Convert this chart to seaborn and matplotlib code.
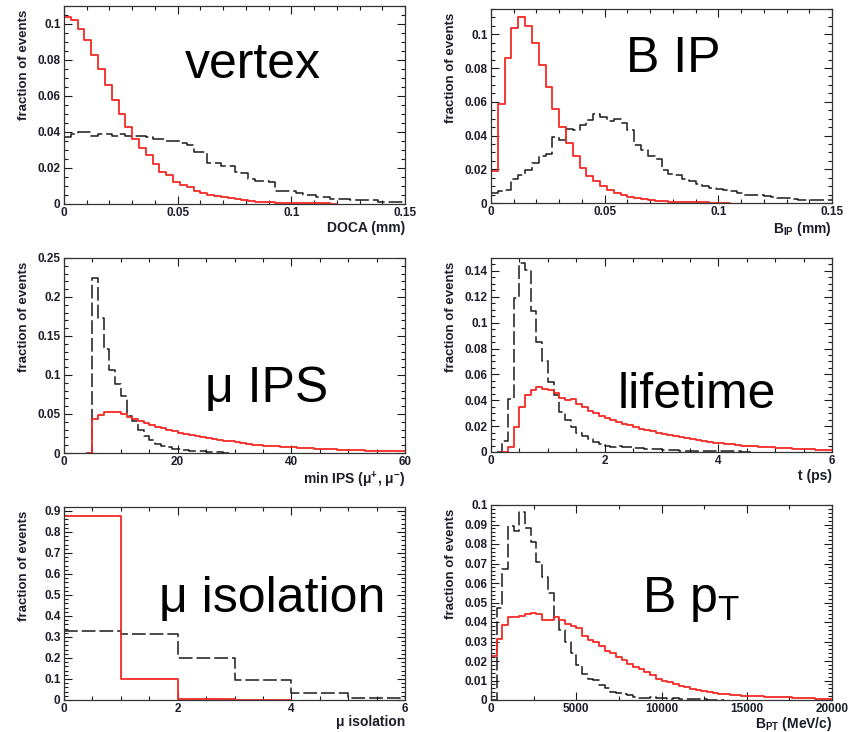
import numpy as np
import pandas as pd
import matplotlib
matplotlib.use("Agg")
import matplotlib.pyplot as plt
import seaborn as sns
from matplotlib.ticker import MultipleLocator, FuncFormatter

# ---------------- data (fraction of events per bin) ----------------
# vertex: DOCA (mm), 50 bins 0..0.15
vertex_range = (0.0, 0.15)
vertex_sig = [0.104, 0.102, 0.097, 0.091, 0.083, 0.075, 0.066, 0.058, 0.050, 0.043,
              0.036, 0.031, 0.027, 0.022, 0.018, 0.016, 0.0125, 0.0107, 0.0093, 0.0075,
              0.0060, 0.0050, 0.0043, 0.0037, 0.0032, 0.0026, 0.0021, 0.0017, 0.0013, 0.0011,
              0.0009, 0.0008, 0.0007, 0.0006, 0.0005, 0.0004, 0.0004, 0.0003, 0.0003, 0.0,
              0.0, 0.0, 0.0, 0.0, 0.0, 0.0, 0.0, 0.0, 0.0, 0.0]
vertex_bkg = [0.037, 0.039, 0.040, 0.040, 0.038, 0.039, 0.039, 0.038, 0.039, 0.038,
              0.038, 0.038, 0.037, 0.036, 0.036, 0.035, 0.035, 0.034, 0.033, 0.029,
              0.029, 0.023, 0.023, 0.021, 0.021, 0.018, 0.017, 0.014, 0.013, 0.013,
              0.012, 0.007, 0.007, 0.007, 0.006, 0.005, 0.005, 0.004, 0.004, 0.003,
              0.003, 0.003, 0.002, 0.002, 0.002, 0.002, 0.001, 0.001, 0.001, 0.001]

# B IP (mm), 50 bins 0..0.15
bip_range = (0.0, 0.15)
bip_sig = [0.019, 0.0585, 0.0857, 0.104, 0.110, 0.105, 0.095, 0.082, 0.069, 0.056,
           0.045, 0.0355, 0.028, 0.021, 0.016, 0.013, 0.010, 0.008, 0.006, 0.0045,
           0.0033, 0.0028, 0.0022, 0.0018, 0.0014, 0.0010, 0.0008, 0.0006, 0.0005, 0.0004,
           0.0003, 0.0003, 0.0002, 0.0002, 0.0, 0.0, 0.0, 0.0, 0.0, 0.0,
           0.0, 0.0, 0.0, 0.0, 0.0, 0.0, 0.0, 0.0, 0.0, 0.0]
bip_bkg = [0.006, 0.007, 0.008, 0.0144, 0.0164, 0.0197, 0.024, 0.028, 0.029, 0.0394,
           0.0374, 0.0437, 0.043, 0.0463, 0.0493, 0.053, 0.0512, 0.0487, 0.0497, 0.0477,
           0.043, 0.0345, 0.0315, 0.0276, 0.026, 0.0197, 0.0173, 0.0164, 0.014, 0.013,
           0.011, 0.010, 0.009, 0.0085, 0.0075, 0.007, 0.006, 0.005, 0.005, 0.0045,
           0.004, 0.0035, 0.003, 0.003, 0.0025, 0.002, 0.002, 0.002, 0.002, 0.002]

# min IPS, 60 bins 0..60
ips_range = (0.0, 60.0)
ips_sig = [0, 0, 0, 0, 0, 0.044, 0.049, 0.052, 0.053, 0.053,
           0.050, 0.046, 0.044, 0.041, 0.0385, 0.0355, 0.0333, 0.032, 0.030, 0.028,
           0.0256, 0.0244, 0.023, 0.0214, 0.020, 0.019, 0.018, 0.0167, 0.0158, 0.015,
           0.0141, 0.0128, 0.0115, 0.0107, 0.0102, 0.0096, 0.0091, 0.0086, 0.0081, 0.0076,
           0.0071, 0.0067, 0.0063, 0.0059, 0.0056, 0.0052, 0.0049, 0.0046, 0.0043, 0.0040,
           0.0038, 0.0036, 0.0034, 0.0032, 0.0031, 0.0030, 0.0029, 0.0028, 0.0027, 0.0026]
ips_bkg = [0, 0, 0, 0, 0, 0.224, 0.173, 0.133, 0.107, 0.089,
           0.073, 0.047, 0.0415, 0.030, 0.0214, 0.0162, 0.012, 0.0094, 0.0073, 0.0056,
           0.005, 0.0038, 0.003, 0.0026, 0.0021, 0.0017, 0.0017, 0.0013, 0, 0,
           0, 0, 0, 0, 0, 0, 0, 0, 0, 0,
           0, 0, 0, 0, 0, 0, 0, 0, 0, 0,
           0, 0, 0, 0, 0, 0, 0, 0, 0, 0]

# lifetime t (ps), 60 bins 0..6
life_range = (0.0, 6.0)
life_sig = [0, 0, 0, 0.004, 0.019, 0.035, 0.044, 0.048, 0.050, 0.049,
            0.048, 0.046, 0.042, 0.040, 0.041, 0.037, 0.035, 0.032, 0.030, 0.028,
            0.026, 0.025, 0.023, 0.022, 0.021, 0.019, 0.018, 0.017, 0.016, 0.015,
            0.014, 0.013, 0.0122, 0.0113, 0.0105, 0.0097, 0.009, 0.0083, 0.0077, 0.0071,
            0.0066, 0.0062, 0.0058, 0.0054, 0.005, 0.0047, 0.0044, 0.0041, 0.0038, 0.0035,
            0.0032, 0.003, 0.0028, 0.0026, 0.0024, 0.0022, 0.002, 0.0018, 0.0016, 0.0014]
life_bkg = [0, 0, 0.0085, 0.041, 0.119, 0.146, 0.141, 0.109, 0.085, 0.070,
            0.054, 0.044, 0.031, 0.025, 0.019, 0.015, 0.012, 0.010, 0.0075, 0.006,
            0.0045, 0.004, 0.0045, 0.004, 0.0035, 0.003, 0.003, 0.0025, 0.002, 0.002,
            0.0015, 0.0015, 0.0012, 0.001, 0.001, 0.0008, 0.0008, 0.0007, 0.0006, 0.0006,
            0.0005, 0.0005, 0.0004, 0.0004, 0.0003, 0, 0, 0, 0, 0,
            0, 0, 0, 0, 0, 0, 0, 0, 0, 0]

# mu isolation, 6 bins 0..6
iso_range = (0.0, 6.0)
iso_sig = [0.877, 0.100, 0.006, 0, 0, 0]
iso_bkg = [0.330, 0.316, 0.202, 0.093, 0.034, 0.009]

# B pT (MeV/c), 60 bins 0..20000
pt_range = (0.0, 20000.0)
pt_sig = [0.0225, 0.0315, 0.0385, 0.0427, 0.0428, 0.0433, 0.0440, 0.0445, 0.0440, 0.0410,
          0.0410, 0.0425, 0.0410, 0.0390, 0.0380, 0.0370, 0.0330, 0.0310, 0.0300, 0.0275,
          0.0250, 0.0240, 0.0220, 0.0203, 0.0186, 0.0169, 0.0157, 0.0143, 0.0126, 0.0110,
          0.0098, 0.0090, 0.0082, 0.0074, 0.0066, 0.0058, 0.0052, 0.0046, 0.0041, 0.0036,
          0.0032, 0.0029, 0.0027, 0.0025, 0.0023, 0.0022, 0.0020, 0.0019, 0.0017, 0.0016,
          0.0015, 0.0016, 0.0014, 0.0012, 0.0010, 0.0009, 0.0008, 0.0007, 0.0006, 0.0005]
pt_bkg = [0, 0.047, 0.067, 0.089, 0.0865, 0.0964, 0.088, 0.081, 0.071, 0.063,
          0.055, 0.0415, 0.036, 0.030, 0.024, 0.018, 0.0135, 0.011, 0.0104, 0.0078,
          0.006, 0.0043, 0.0038, 0.0031, 0.0026, 0.0017, 0.0012, 0.001, 0.0015, 0.001,
          0.0008, 0.0005, 0.0008, 0.0004, 0.0004, 0.0003, 0.0003, 0.0003, 0.0002, 0.0002,
          0, 0, 0, 0, 0, 0, 0, 0, 0, 0,
          0, 0, 0, 0, 0, 0, 0, 0, 0, 0]

titles = ["vertex", "B IP", "μ IPS", "lifetime", "μ isolation", r"B p$_{\mathrm{T}}$"]
xlabels = ["DOCA (mm)", r"B$_{\mathbf{IP}}$ (mm)", r"min IPS (μ$^{\mathbf{+}}$, μ$^{\mathbf{-}}$)",
           "t (ps)", "μ isolation", r"B$_{\mathbf{PT}}$ (MeV/c)"]
ylabel = "fraction of events"

# ---------------- style ----------------
sns.set_style("ticks")
plt.rcParams["font.family"] = ["Liberation Sans", "DejaVu Sans"]
plt.rcParams["font.weight"] = "bold"
plt.rcParams["mathtext.fontset"] = "custom"
plt.rcParams["mathtext.rm"] = "Liberation Sans:regular"
plt.rcParams["mathtext.bf"] = "Liberation Sans:bold"
plt.rcParams["mathtext.it"] = "Liberation Sans:italic"
plt.rcParams["mathtext.sf"] = "Liberation Sans:regular"

RED = "#f42a24"
BLACK = "#1a1a1a"
TXT = "#1c1c2a"

fig = plt.figure(figsize=(8.52, 7.32), dpi=100)

W = 852.0
H = 732.0
# axes boxes in pixels: left, top, right, bottom
boxes = [(64, 6, 405, 204), (491, 9, 832, 203),
         (64, 258, 405, 453), (491, 258, 832, 452),
         (64, 507, 405, 700), (491, 505, 832, 700)]

panels = [
    dict(rng=vertex_range, sig=vertex_sig, bkg=vertex_bkg, ylim=0.11,
         xmaj=0.05, xmin=0.01, ymaj=0.02, ymin=0.005, title_pos=(0.554, 0.636)),
    dict(rng=bip_range, sig=bip_sig, bkg=bip_bkg, ylim=0.115,
         xmaj=0.05, xmin=0.01, ymaj=0.02, ymin=0.005, title_pos=(0.534, 0.675)),
    dict(rng=ips_range, sig=ips_sig, bkg=ips_bkg, ylim=0.25,
         xmaj=20, xmin=5, ymaj=0.05, ymin=0.01, title_pos=(0.595, 0.263)),
    dict(rng=life_range, sig=life_sig, bkg=life_bkg, ylim=0.15,
         xmaj=2, xmin=0.5, ymaj=0.02, ymin=0.005, title_pos=(0.604, 0.225)),
    dict(rng=iso_range, sig=iso_sig, bkg=iso_bkg, ylim=0.919,
         xmaj=2, xmin=0.5, ymaj=0.1, ymin=0.02, title_pos=(0.61, 0.454)),
    dict(rng=pt_range, sig=pt_sig, bkg=pt_bkg, ylim=0.1,
         xmaj=5000, xmin=2500, ymaj=0.01, ymin=0.002, title_pos=(0.587, 0.45)),
]


def draw_hist(ax, rng, values, **kw):
    vals = np.asarray(values, dtype=float)
    n = len(vals)
    edges = np.linspace(rng[0], rng[1], n + 1)
    nz = np.nonzero(vals)[0]
    # keep one empty bin on each side so the outline drops to zero
    i0, i1 = max(nz[0] - 1, 0), min(nz[-1] + 2, n)
    centers = 0.5 * (edges[:-1] + edges[1:])
    df = pd.DataFrame({"x": centers[i0:i1], "w": vals[i0:i1]})
    sns.histplot(data=df, x="x", weights="w", bins=[float(e) for e in edges[i0:i1 + 1]],
                 element="step", fill=False, ax=ax, **kw)


fmt = FuncFormatter(lambda v, p: "%g" % round(v, 6))

for i, (box, p) in enumerate(zip(boxes, panels)):
    l, t, r, b = box
    ax = fig.add_axes([l / W, 1 - b / H, (r - l) / W, (b - t) / H])
    draw_hist(ax, p["rng"], p["bkg"], color=BLACK, linewidth=1.1,
              linestyle=(0, (9, 2.6)))
    draw_hist(ax, p["rng"], p["sig"], color=RED, linewidth=1.3)
    ax.set_xlim(*p["rng"])
    ax.set_ylim(0, p["ylim"])
    ax.xaxis.set_major_locator(MultipleLocator(p["xmaj"]))
    ax.xaxis.set_minor_locator(MultipleLocator(p["xmin"]))
    ax.yaxis.set_major_locator(MultipleLocator(p["ymaj"]))
    ax.yaxis.set_minor_locator(MultipleLocator(p["ymin"]))
    ax.xaxis.set_major_formatter(fmt)
    ax.yaxis.set_major_formatter(fmt)
    ax.tick_params(which="both", direction="in", top=True, right=True,
                   colors=BLACK, labelcolor=TXT, labelsize=8.5, width=0.8)
    ax.tick_params(which="major", length=6, pad=2.5)
    ax.tick_params(which="minor", length=3)
    for s in ax.spines.values():
        s.set_visible(True)
        s.set_linewidth(0.9)
        s.set_color("#333333")
    ax.set_ylabel(ylabel, fontsize=9.5, fontweight="bold", color=TXT, loc="top")
    ax.yaxis.set_label_coords(-0.10, 0.98)
    ax.set_xlabel(xlabels[i], fontsize=10, fontweight="bold", color=TXT, loc="right",
                  labelpad=1.0 if i < 4 else -0.5)
    ax.text(p["title_pos"][0], p["title_pos"][1], titles[i], transform=ax.transAxes,
            ha="center", va="baseline", fontsize=36, fontweight="normal", color="black")

fig.savefig("out.png", dpi=100)
